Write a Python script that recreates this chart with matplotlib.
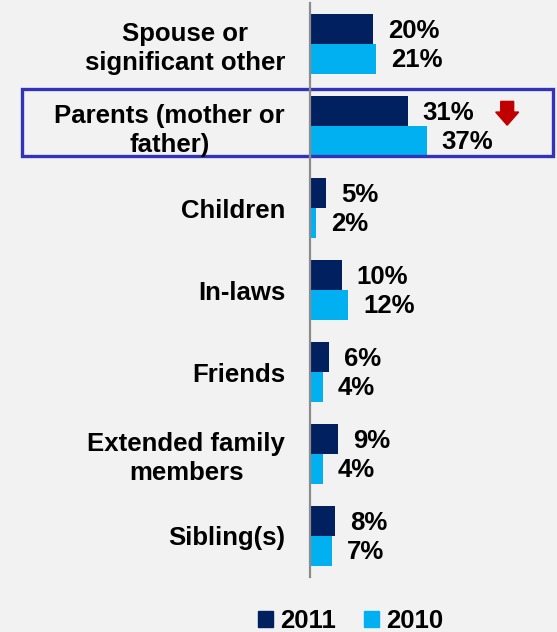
import numpy as np
import matplotlib.pyplot as plt
from matplotlib.patches import Rectangle, FancyArrow, Patch

plt.rcParams['font.family'] = ['Liberation Sans', 'DejaVu Sans']
plt.rcParams['font.weight'] = 'bold'

categories = ['Spouse or\nsignificant other', 'Parents (mother or\nfather)', 'Children',
              'In-laws', 'Friends', 'Extended family\nmembers', 'Sibling(s)']
vals_2011 = [20, 31, 5, 10, 6, 9, 8]
vals_2010 = [21, 37, 2, 12, 4, 4, 7]

navy = '#002060'
sky = '#00b0f0'
bg = '#f2f2f2'
fs = 18.5

fig = plt.figure(figsize=(5.57, 6.32), dpi=100, facecolor=bg)
ax = fig.add_axes([310/557, 1-577/632, 247/557, 574/632])
ax.set_facecolor(bg)

y = np.arange(len(categories))
h = 0.36
ax.barh(y - h/2, vals_2011, height=h, color=navy)
ax.barh(y + h/2, vals_2010, height=h, color=sky)

for yi, v in zip(y, vals_2011):
    ax.text(v + 4.8, yi - h/2 + 0.02, f'{v}%', va='center', ha='left', fontsize=fs, fontweight='bold')
for yi, v in zip(y, vals_2010):
    ax.text(v + 4.8, yi + h/2 + 0.02, f'{v}%', va='center', ha='left', fontsize=fs, fontweight='bold')

ax.set_xlim(0, 247/3.15)
ax.set_ylim(6.5, -0.5)
ax.set_yticks(y)
ax.set_yticklabels(categories, fontsize=fs, fontweight='bold', linespacing=1.25)
for lab in ax.get_yticklabels():
    lab.set_multialignment('center')
ax.tick_params(axis='y', length=0, pad=18)
ax.set_xticks([])
for s in ['top', 'right', 'bottom']:
    ax.spines[s].set_visible(False)
ax.spines['left'].set_color('#8c8c8c')
ax.spines['left'].set_linewidth(1.6)

# highlight box around the parents row
ax.add_patch(Rectangle((-91.4, 1 - 0.45), 168.5, 0.81, fill=False,
                       edgecolor='#3333b8', linewidth=2.4, clip_on=False))
# decline marker
ax.add_patch(FancyArrow(vals_2011[1] + 31.6, 1 - 0.30, 0, 0.13, width=4.1,
                        head_width=7.3, head_length=0.16, length_includes_head=False,
                        color='#c00000', clip_on=False))

handles = [Patch(color=navy, label='2011'), Patch(color=sky, label='2010')]
fig.legend(handles=handles, loc='center', bbox_to_anchor=(0.63, 0.017), ncol=2,
           frameon=False, handlelength=0.55, handleheight=0.55, handletextpad=0.3,
           columnspacing=1.1, prop={'size': fs, 'weight': 'bold'})

fig.savefig('out.png', dpi=100, facecolor=bg)
